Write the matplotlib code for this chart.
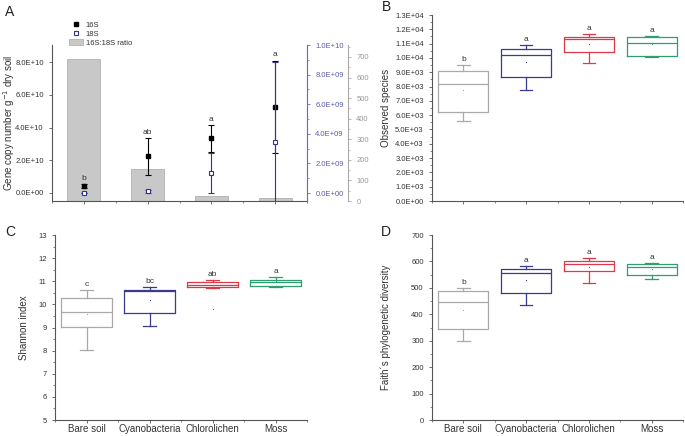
import numpy as np
import matplotlib
matplotlib.use('Agg')
import matplotlib.pyplot as plt
from matplotlib.ticker import FuncFormatter, MultipleLocator
from matplotlib.lines import Line2D
from matplotlib.patches import Patch

plt.rcParams['font.family'] = ['Liberation Sans', 'DejaVu Sans']

groups = ['Bare soil', 'Cyanobacteria', 'Chlorolichen', 'Moss']

# panel A: qPCR
s16_mean = [0.43e10, 2.24e10, 3.34e10, 5.27e10]
s16_err = [0.12e10, 1.12e10, 0.82e10, 2.82e10]
s18_mean = [0.0e9, 0.11e9, 1.37e9, 3.43e9]
s18_err = [0.03e9, 0.08e9, 1.35e9, 5.42e9]
ratio = [690, 157, 26, 16]
letters_a = ['b', 'ab', 'a', 'a']

# panels B-D: box stats (whislo, q1, med, q3, whishi, mean)
obs_species = [
    [5600, 6250, 8210, 9080, 9480, 7740],
    [7740, 8640, 10180, 10640, 10880, 9710],
    [9630, 10390, 11300, 11440, 11700, 10940],
    [10040, 10150, 11050, 11460, 11520, 10950],
]
letters_b = ['b', 'a', 'a', 'a']

shannon = [
    [8.02, 9.01, 9.67, 10.29, 10.63, 9.58],
    [9.07, 9.63, 10.60, 10.64, 10.75, 10.20],
    [10.72, 10.73, 10.85, 10.95, 11.05, 9.80],
    [10.76, 10.80, 10.95, 11.06, 11.18, 10.99],
]
letters_c = ['c', 'bc', 'ab', 'a']

faith_pd = [
    [300, 345, 445, 487, 501, 417],
    [436, 481, 555, 570, 583, 530],
    [519, 563, 592, 600, 612, 578],
    [534, 549, 580, 590, 593, 572],
]
letters_d = ['b', 'a', 'a', 'a']

box_colors = ['#a9a9a9', '#3a3a8e', '#dc3a48', '#2f9e70']
navy = '#34348c'
axis_col = '#555555'
txt_col = '#333333'

W, H = 685, 436
fig = plt.figure(figsize=(W / 100, H / 100), dpi=100)


def px_axes(l, t, r, b):
    return fig.add_axes([l / W, 1 - b / H, (r - l) / W, (b - t) / H])


def sci(v, pos):
    return f'{v:.1E}'


def style(ax):
    for s in ['top', 'right']:
        ax.spines[s].set_visible(False)
    for s in ['left', 'bottom']:
        ax.spines[s].set_color(axis_col)
        ax.spines[s].set_linewidth(0.8)
    ax.tick_params(colors=axis_col, labelcolor=txt_col, labelsize=5.5, width=0.6, length=2.5)
    ax.tick_params(which='minor', colors=axis_col, width=0.5, length=1.5)


def set_x(ax):
    ax.set_xlim(0.5, 4.5)
    ax.set_xticks([1, 2, 3, 4])
    ax.xaxis.set_minor_locator(MultipleLocator(0.5))
    ax.tick_params(axis='x', length=2, pad=1)


def boxes(ax, data, letters):
    x = np.arange(1, 5)
    for i, d in enumerate(data):
        st = [dict(whislo=d[0], q1=d[1], med=d[2], q3=d[3], whishi=d[4], mean=d[5])]
        c = box_colors[i]
        ax.bxp(st, positions=[x[i]], widths=0.8, capwidths=0.2, showmeans=True, showfliers=False,
               manage_ticks=False,
               boxprops=dict(color=c, lw=0.9), medianprops=dict(color=c, lw=0.9),
               whiskerprops=dict(color=c, lw=0.9), capprops=dict(color=c, lw=0.9),
               meanprops=dict(marker='s', markersize=0.8, markerfacecolor=c, markeredgecolor='none'))
        ax.annotate(letters[i], (x[i], d[4]), xytext=(0, 1.5), textcoords='offset points',
                    ha='center', va='bottom', fontsize=6, color=txt_col)
    set_x(ax)


# ---- A ----
axA = px_axes(52, 45, 307, 201)
axR = axA.twinx()
ax18 = axA.twinx()
axR.set_zorder(0)
axA.set_zorder(1)
ax18.set_zorder(2)
axA.patch.set_visible(False)
ax18.patch.set_visible(False)

x = np.arange(1, 5)
axR.bar(x, ratio, width=0.52, color='#c8c8c8', edgecolor='#b0b0b0', lw=0.6)
axR.set_ylim(0, 758)
axR.yaxis.set_major_locator(MultipleLocator(100))
axR.yaxis.set_minor_locator(MultipleLocator(50))
for s in ['left', 'bottom', 'top']:
    axR.spines[s].set_visible(False)
axR.spines['right'].set_position(('outward', 29.5))
axR.spines['right'].set_color('#aaaaaa')
axR.tick_params(colors='#aaaaaa', labelcolor='#999999', labelsize=5.5, width=0.6, length=2.5)
axR.tick_params(which='minor', colors='#aaaaaa', width=0.5, length=1.5)

style(axA)
set_x(axA)
axA.set_xticklabels([])
axA.set_ylim(-0.49e10, 9.04e10)
axA.yaxis.set_major_locator(MultipleLocator(2e10))
axA.yaxis.set_major_formatter(FuncFormatter(sci))
axA.errorbar(x, s16_mean, yerr=s16_err, fmt='s', color='black', ms=3, capsize=2, elinewidth=0.8,
             capthick=0.8)
for i in range(4):
    axA.annotate(letters_a[i], (x[i], s16_mean[i] + s16_err[i]), xytext=(0, 1.5),
                 textcoords='offset points', ha='center', va='bottom', fontsize=6, color=txt_col)
axA.set_ylabel('Gene copy number g$^{-1}$ dry soil', fontsize=7, color=txt_col)
axA.yaxis.set_label_coords(-0.137, 0.5)

ax18.errorbar(x, s18_mean, yerr=s18_err, fmt='s', color=navy, mfc='white', mec=navy, ms=3,
              mew=0.8, capsize=2, elinewidth=0.8, capthick=0.8)
ax18.set_ylim(-0.054e10, 1.0e10)
ax18.yaxis.set_major_locator(MultipleLocator(2e9))
ax18.yaxis.set_minor_locator(MultipleLocator(1e9))
ax18.yaxis.set_major_formatter(FuncFormatter(sci))
for s in ['left', 'bottom', 'top']:
    ax18.spines[s].set_visible(False)
ax18.spines['right'].set_color('#6a6ab0')
ax18.tick_params(colors='#6a6ab0', labelcolor='#5c5ca8', labelsize=5.5, width=0.6, length=2.5)
ax18.tick_params(which='minor', colors='#6a6ab0', width=0.5, length=1.5)

handles = [Line2D([], [], ls='none', marker='s', color='black', ms=3),
           Line2D([], [], ls='none', marker='s', mfc='white', mec=navy, ms=3, mew=0.8),
           Patch(facecolor='#c8c8c8', edgecolor='#b0b0b0', lw=0.6)]
fig.legend(handles, ['16S', '18S', '16S:18S ratio'], loc='upper left',
           bbox_to_anchor=(66 / W, 1 - 18 / H), frameon=False, fontsize=5.5,
           handlelength=1.8, handleheight=0.9, handletextpad=0.4, labelspacing=0.15,
           borderaxespad=0, labelcolor=txt_col)

# ---- B ----
axB = px_axes(432, 15, 683, 201)
style(axB)
boxes(axB, obs_species, letters_b)
axB.set_xticklabels([])
axB.set_ylim(0, 13000)
axB.yaxis.set_major_locator(MultipleLocator(1000))
axB.yaxis.set_minor_locator(MultipleLocator(500))
axB.yaxis.set_major_formatter(FuncFormatter(sci))
axB.set_ylabel('Observed species', fontsize=7, color=txt_col)
axB.yaxis.set_label_coords(-0.163, 0.5)

# ---- C ----
axC = px_axes(55, 235, 307, 420)
style(axC)
boxes(axC, shannon, letters_c)
axC.set_ylim(5, 13)
axC.yaxis.set_major_locator(MultipleLocator(1))
axC.yaxis.set_minor_locator(MultipleLocator(0.5))
axC.set_xticklabels(groups, fontsize=7)
axC.set_ylabel('Shannon index', fontsize=7, color=txt_col)
axC.yaxis.set_label_coords(-0.103, 0.5)

# ---- D ----
axD = px_axes(432, 235, 683, 420)
style(axD)
boxes(axD, faith_pd, letters_d)
axD.set_ylim(0, 700)
axD.yaxis.set_major_locator(MultipleLocator(100))
axD.yaxis.set_minor_locator(MultipleLocator(50))
axD.set_xticklabels(groups, fontsize=7)
axD.set_ylabel('Faith\u00b4s phylogenetic diversity', fontsize=7, color=txt_col)
axD.yaxis.set_label_coords(-0.163, 0.5)

for lab, (px, py) in zip('ABCD', [(5, 12), (382, 7), (5, 232), (381, 232)]):
    fig.text(px / W, 1 - py / H, lab, fontsize=10, color='#222222', ha='left', va='center')

fig.savefig('out.png', dpi=100)
